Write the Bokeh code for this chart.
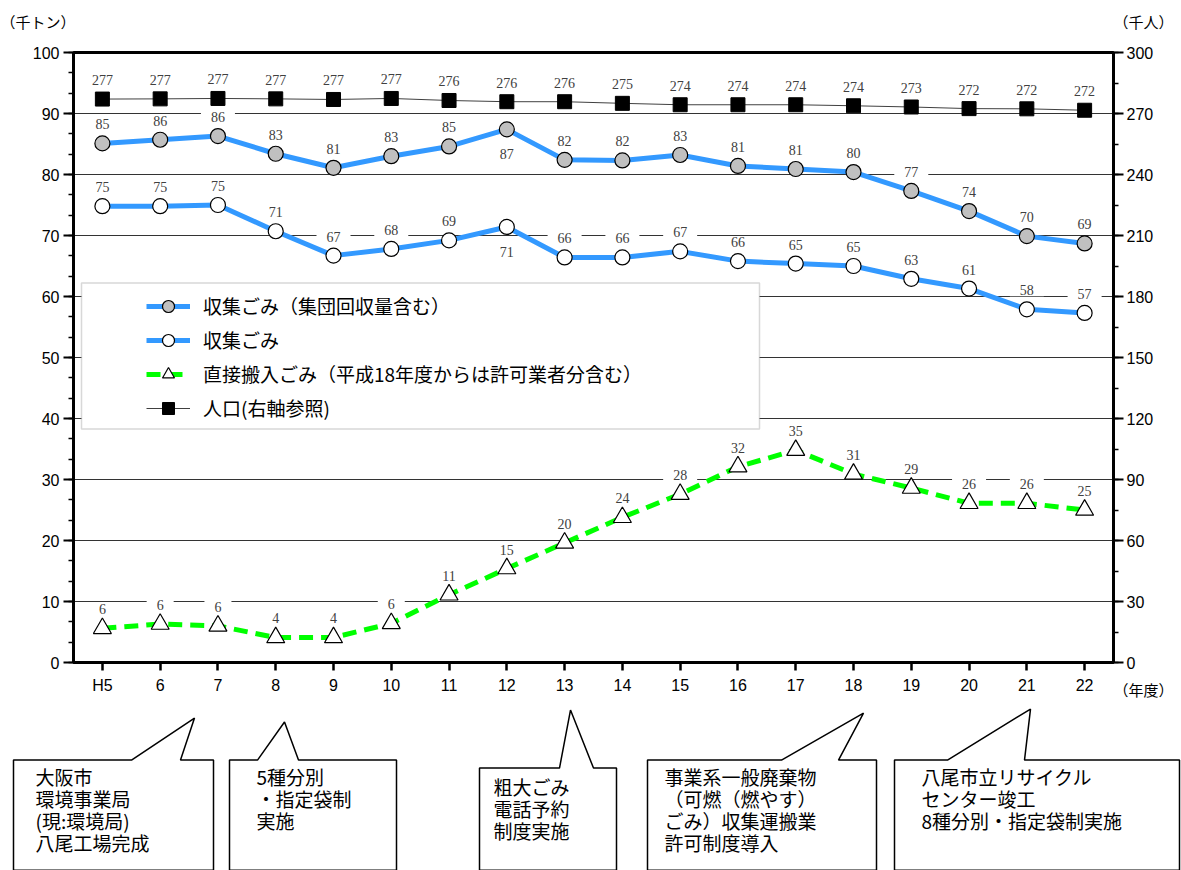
from bokeh.plotting import figure
from bokeh.models import (Range1d, FactorRange, LinearAxis, SingleIntervalTicker, ColumnDataSource,
                          Legend, LegendItem, BoxAnnotation)
from bokeh.core.properties import value
from bokeh.embed import file_html
from bokeh.resources import INLINE

# ---------------- data ----------------
years = ["H5", "6", "7", "8", "9", "10", "11", "12", "13", "14", "15", "16", "17", "18", "19", "20", "21", "22"]
collected_incl_group = [85.1, 85.7, 86.3, 83.4, 81.1, 83.0, 84.6, 87.4, 82.4, 82.3, 83.2, 81.4, 80.9, 80.4, 77.3, 74.0, 69.9, 68.7]
collected = [74.8, 74.8, 75.0, 70.7, 66.7, 67.8, 69.2, 71.4, 66.4, 66.4, 67.4, 65.8, 65.4, 65.0, 62.9, 61.3, 57.9, 57.3]
direct = [5.6, 6.3, 6.0, 4.1, 4.1, 6.4, 11.1, 15.4, 19.6, 23.8, 27.6, 32.1, 34.8, 30.9, 28.6, 26.1, 26.1, 25.0]
population = [277.1, 277.2, 277.4, 277.2, 276.9, 277.4, 276.4, 275.8, 275.8, 275.0, 274.3, 274.3, 274.3, 273.8, 273.2, 272.4, 272.3, 271.6]

series_names = ["収集ごみ（集団回収量含む）", "収集ごみ", "直接搬入ごみ（平成18年度からは許可業者分含む）", "人口(右軸参照)"]

callouts = [
    ["大阪市", "環境事業局", "(現:環境局)", "八尾工場完成"],
    ["5種分別", "・指定袋制", "実施"],
    ["粗大ごみ", "電話予約", "制度実施"],
    ["事業系一般廃棄物", "（可燃（燃やす）", "ごみ）収集運搬業", "許可制度導入"],
    ["八尾市立リサイクル", "センター竣工", "8種分別・指定袋制実施"],
]

# ---------------- layout constants (canvas px) ----------------
W, H = 1181, 870
FL, FR, FT, FB = 73, 1113, 52, 661.5
JP = "Noto Sans CJK JP"
Y_MAX = 100


def xd(X):  # canvas px -> synthetic x (for decorations outside the frame)
    return (X - FL) / ((FR - FL) / len(years))


def yd(Y):  # canvas px -> left-axis data units
    return (FB - Y) / (FB - FT) * Y_MAX


def sx(X):
    return X - FL


def sy(Y):
    return FB - Y


p = figure(width=W, height=H, x_range=FactorRange(*years), y_range=Range1d(0, Y_MAX),
           output_backend="svg", toolbar_location=None,
           min_border_left=FL, min_border_right=W - FR, min_border_top=FT, min_border_bottom=int(H - FB))
p.extra_y_ranges = {"pop": Range1d(0, 300)}
p.background_fill_color = "white"
p.border_fill_color = "white"
p.outline_line_color = "black"
p.outline_line_width = 3

# axes
p.yaxis.ticker = SingleIntervalTicker(interval=10, num_minor_ticks=3)
ax2 = LinearAxis(y_range_name="pop", ticker=SingleIntervalTicker(interval=30, num_minor_ticks=2))
p.add_layout(ax2, "right")

for ax in p.yaxis + p.xaxis:
    ax.axis_line_width = 3
    ax.axis_line_color = "black"
    ax.major_tick_line_color = "black"
    ax.major_tick_line_width = 2
    ax.major_tick_in = 0
    ax.major_tick_out = 10
    ax.minor_tick_line_color = "black"
    ax.minor_tick_line_width = 1.5
    ax.minor_tick_in = 0
    ax.minor_tick_out = 5
    ax.major_label_text_font = "Liberation Sans"
    ax.major_label_text_font_size = "16px"
    ax.major_label_text_color = "black"
p.yaxis[0].major_label_standoff = 4
ax2.major_label_standoff = 3
p.xaxis.major_tick_out = 8
p.xaxis.major_tick_line_width = 2.5
p.xaxis.major_label_standoff = 6

p.xgrid.visible = False
p.ygrid.grid_line_color = "#333333"
p.ygrid.grid_line_width = 1

# legend box (drawn before legend)
p.add_layout(BoxAnnotation(left=sx(81), right=sx(759), top=sy(282), bottom=sy(428),
                           left_units="screen", right_units="screen", top_units="screen", bottom_units="screen",
                           fill_color="white", fill_alpha=1, line_color="#7f7f7f", line_width=1.5, level="annotation"))

# ---------------- series ----------------
BLUE = "#3399FF"
GREEN = "#00FF00"

l1 = p.line(years, collected_incl_group, line_color=BLUE, line_width=5)
m1 = p.scatter(years, collected_incl_group, marker="circle", size=15, fill_color="#C0C0C0", line_color="black", line_width=1.2)
l2 = p.line(years, collected, line_color=BLUE, line_width=5)
m2 = p.scatter(years, collected, marker="circle", size=15, fill_color="white", line_color="black", line_width=1.2)
l3 = p.line(years, direct, line_color=GREEN, line_width=5, line_dash="14 8")
m3 = p.scatter(years, direct, marker="triangle", size=18, fill_color="white", line_color="black", line_width=1.2)
l4 = p.line(years, population, line_color="#404040", line_width=1, y_range_name="pop")
m4 = p.scatter(years, population, marker="square", size=14, fill_color="black", line_color="black", y_range_name="pop")


# ---------------- data labels ----------------
def add_labels(vals, below=(), range_name="default"):
    src = ColumnDataSource(dict(
        x=years, y=vals, t=[str(round(v)) for v in vals],
        yo=[25 if i in below else -19 for i in range(len(vals))]))
    p.text(x="x", y="y", text="t", y_offset="yo", source=src, y_range_name=range_name,
           text_align="center", text_baseline="middle",
           text_font=value("Liberation Serif"), text_font_size="14px", text_color="#404040",
           background_fill_color="white", padding=(10, 1))


add_labels(collected_incl_group, below=(7,))
add_labels(collected, below=(7,))
add_labels(direct)
add_labels(population, range_name="pop")

# ---------------- legend ----------------
legend = Legend(items=[LegendItem(label=series_names[0], renderers=[l1, m1]),
                       LegendItem(label=series_names[1], renderers=[l2, m2]),
                       LegendItem(label=series_names[2], renderers=[l3, m3]),
                       LegendItem(label=series_names[3], renderers=[l4, m4])],
                location=(sx(146), sy(422)), orientation="vertical",
                glyph_width=44, glyph_height=30, label_height=30, label_standoff=13, spacing=4,
                padding=0, margin=0, border_line_alpha=0, background_fill_alpha=0,
                label_text_font=JP, label_text_font_size="19px", label_text_color="black")
p.add_layout(legend, "center")

# ---------------- unit captions (outside the frame, overlay level) ----------------
cap_txt = ["（千トン）", "（千人）", "（年度）"]
cap_X = [0, 1113, 1113]
cap_Y = [21, 21, 688]
p.text(x=[xd(v) for v in cap_X], y=[yd(v) for v in cap_Y], text=cap_txt, level="overlay",
       text_font=value(JP), text_font_size="15px", text_color="black",
       text_align="left", text_baseline="middle")

# ---------------- callouts ----------------
shapes = [
    ([13, 131, 194, 180, 213, 213, 13], [759, 759, 717, 759, 759, 869, 869]),
    ([229, 257, 284, 298, 396, 396, 229], [759, 759, 721, 759, 759, 869, 869]),
    ([479, 559, 570, 593, 616, 616, 479], [767, 767, 709, 767, 767, 869, 869]),
    ([647, 781, 863, 838, 876, 876, 647], [759, 759, 712, 759, 759, 869, 869]),
    ([894, 947, 1030, 1024, 1179, 1179, 894], [759, 759, 708, 759, 759, 869, 869]),
]
for bx, by in shapes:
    p.patch(x=[xd(v) for v in bx], y=[yd(v) for v in by],
            fill_color="white", line_color="black", line_width=1.5, level="overlay")

text_pos = [(35, 775), (256, 775), (493, 785), (664, 775), (921, 775)]
tx_list, ty_list, tt_list = [], [], []
for (tx, ty), lines in zip(text_pos, callouts):
    for k, line in enumerate(lines):
        tx_list.append(xd(tx))
        ty_list.append(yd(ty + 22 * k))
        tt_list.append(line)
p.text(x=tx_list, y=ty_list, text=tt_list, level="overlay",
       text_font=value(JP), text_font_size="19px", text_color="black",
       text_align="left", text_baseline="middle")

open("out.html", "w").write(file_html(p, INLINE))
